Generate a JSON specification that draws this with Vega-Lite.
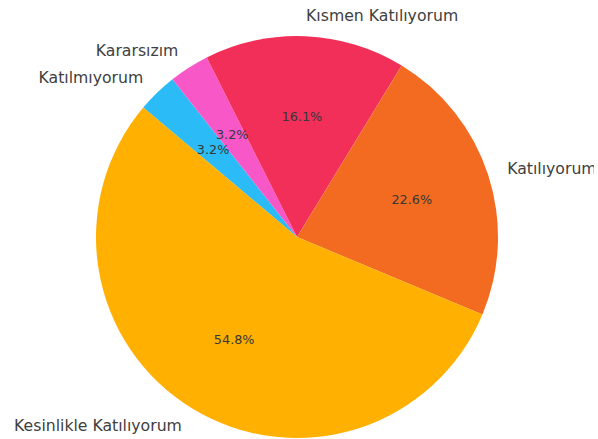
{
  "$schema": "https://vega.github.io/schema/vega-lite/v6.json",
  "width": 594,
  "height": 474,
  "padding": 0,
  "autosize": "none",
  "background": "white",
  "view": {"stroke": null},
  "data": {
    "values": [
      {"idx": 1, "category": "Katılmıyorum", "count": 1, "pct": "3.2%"},
      {"idx": 2, "category": "Kararsızım", "count": 1, "pct": "3.2%"},
      {"idx": 3, "category": "Kısmen Katılıyorum", "count": 5, "pct": "16.1%"},
      {"idx": 4, "category": "Katılıyorum", "count": 7, "pct": "22.6%"},
      {"idx": 5, "category": "Kesinlikle Katılıyorum", "count": 17, "pct": "54.8%"}
    ]
  },
  "encoding": {
    "theta": {"field": "count", "type": "quantitative", "stack": true, "scale": {"range": [-0.871, 5.4122]}},
    "order": {"field": "idx", "type": "quantitative"}
  },
  "layer": [
    {
      "mark": {"type": "arc", "outerRadius": 201},
      "encoding": {
        "color": {
          "field": "category", "type": "nominal", "legend": null,
          "scale": {
            "domain": ["Katılmıyorum", "Kararsızım", "Kısmen Katılıyorum", "Katılıyorum", "Kesinlikle Katılıyorum"],
            "range": ["#2BBCF8", "#F857C8", "#F22F58", "#F26B21", "#FFB000"]
          }
        }
      }
    },
    {
      "mark": {
        "type": "text", "radius": 221, "font": "DejaVu Sans", "fontSize": 15.7, "fill": "#404040", "baseline": "middle",
        "align": {"expr": "(datum.category == 'Katılıyorum' || datum.category == 'Kısmen Katılıyorum') ? 'left' : 'right'"}
      },
      "encoding": {"text": {"field": "category", "type": "nominal"}}
    },
    {
      "mark": {"type": "text", "radius": 120.6, "font": "DejaVu Sans", "fontSize": 12.8, "fill": "#383838", "baseline": "middle", "align": "center"},
      "encoding": {"text": {"field": "pct", "type": "nominal"}}
    }
  ]
}
